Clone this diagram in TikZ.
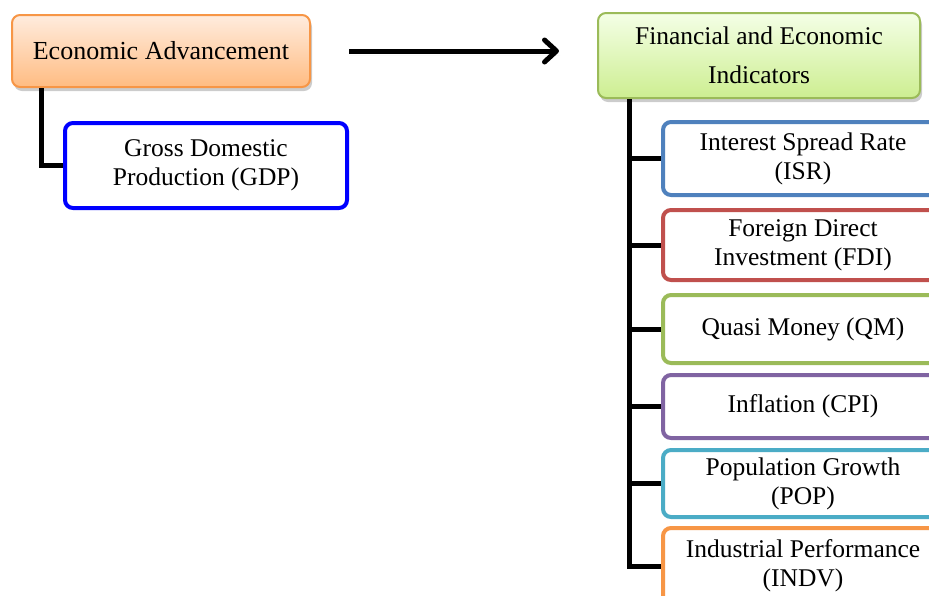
\documentclass[tikz,border=0pt]{standalone}
\usepackage{fontspec}
\setmainfont{Liberation Serif}
\usepackage{xcolor}
\usepackage{tikz}
\usetikzlibrary{shadows,arrows.meta,positioning}

\definecolor{orgline}{RGB}{247,150,70}
\definecolor{orgtop}{RGB}{255,236,222}
\definecolor{orgbot}{RGB}{255,188,130}
\definecolor{grnline}{RGB}{155,187,89}
\definecolor{grntop}{RGB}{244,255,230}
\definecolor{grnbot}{RGB}{205,238,145}
\definecolor{isrcol}{RGB}{79,129,189}
\definecolor{fdicol}{RGB}{192,80,77}
\definecolor{qmcol}{RGB}{155,187,89}
\definecolor{cpicol}{RGB}{128,100,162}
\definecolor{popcol}{RGB}{75,172,198}
\definecolor{indcol}{RGB}{247,150,70}

\tikzset{
  headbox/.style={draw,line width=2pt,rounded corners=8pt,align=center,
    drop shadow={opacity=0.4,shadow xshift=2pt,shadow yshift=-4pt}},
  itembox/.style={draw,line width=4pt,rounded corners=8pt,fill=white,align=center,
    font={\fontsize{25.5}{29}\selectfont}},
  branch/.style={draw=black,line width=5pt},
}

\begin{document}
\begin{tikzpicture}[x=1pt,y=-1pt]
        \useasboundingbox (0,0) rectangle (929,595);
        \clip (0,0) rectangle (929,595);
        \node[headbox,draw=orgline,top color=orgtop,bottom color=orgbot,
          minimum width=298pt,minimum height=72pt,
          font={\fontsize{26}{30}\selectfont}] (econ) at (161,51) {Economic Advancement};
        \node[itembox,draw=blue,minimum width=282pt,minimum height=85pt] (gdp) at (206,165.5)
          {Gross Domestic\\Production (GDP)};
        \node[headbox,draw=grnline,top color=grntop,bottom color=grnbot,
          minimum width=322pt,minimum height=85pt,
          font={\fontsize{25.5}{39}\selectfont}] (fin) at (759,55.5) {Financial and Economic\\Indicators};
        \begin{scope}[every node/.style={itembox,minimum width=280pt}]
          \node[draw=isrcol,minimum height=73pt] (isr) at (803,158.5) {Interest Spread Rate\\(ISR)};
          \node[draw=fdicol,minimum height=70pt] (fdi) at (803,245) {Foreign Direct\\Investment (FDI)};
          \node[draw=qmcol,minimum height=68pt] (qm) at (803,329) {Quasi Money (QM)};
          \node[draw=cpicol,minimum height=63pt] (cpi) at (803,406.5) {Inflation (CPI)};
          \node[draw=popcol,minimum height=67pt] (pop) at (803,483.5) {Population Growth\\(POP)};
          \node[draw=indcol,minimum height=76pt] (indv) at (803,566) {Industrial Performance\\(INDV)};
        \end{scope}
        \begin{scope}[every path/.style={branch}]
          \path ([xshift=30pt]econ.south west) |- (gdp.west);
          \path ([xshift=32pt]fin.south west) |- (isr.west);
          \path ([xshift=32pt]fin.south west) |- (fdi.west);
          \path ([xshift=32pt]fin.south west) |- (qm.west);
          \path ([xshift=32pt]fin.south west) |- (cpi.west);
          \path ([xshift=32pt]fin.south west) |- (pop.west);
          \path ([xshift=32pt]fin.south west) |- (indv.west);
        \end{scope}
        \draw[line width=5pt,-{Straight Barb[round,length=12pt,width=22pt]},
          drop shadow={opacity=0.3,shadow xshift=1pt,shadow yshift=-4pt}]
          ([xshift=38pt]econ.east) -- ([xshift=-38pt]fin.west |- econ.east);
      \end{tikzpicture}
\end{document}
